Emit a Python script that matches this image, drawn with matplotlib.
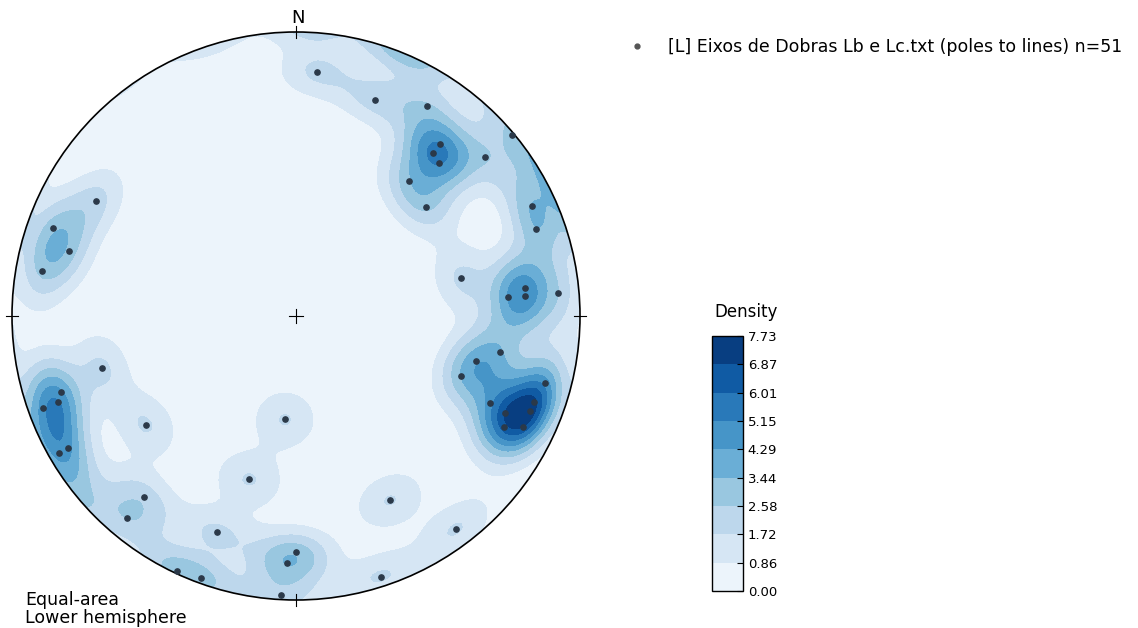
import numpy as np
import matplotlib
matplotlib.use("Agg")
import matplotlib.pyplot as plt
from matplotlib.patches import Circle
from matplotlib.lines import Line2D

# fold axes: trend / plunge in degrees
trends = [5, 20, 32, 50, 40, 40, 43, 50, 40, 50, 65, 70,
          300, 290, 286, 280, 77, 83, 85, 85, 85, 100, 104, 110, 105,
          114, 110, 112, 115, 118, 116, 255, 252, 250, 250, 240, 240,
          234, 186, 196, 220, 220, 153, 143, 200, 180, 182, 205, 200, 162, 183]
plunges = [15, 20, 14, 1, 22, 26, 27, 14, 38, 40, 9, 11,
           20, 10, 18, 10, 40, 20, 20, 26, 8, 28, 35, 38, 10,
           26, 12, 12, 20, 18, 12, 30, 14, 12, 6, 8, 4,
           35, 60, 40, 18, 8, 28, 7, 20, 18, 14, 1, 2, 4, 2]

LEGEND_LABEL = "[L] Eixos de Dobras Lb e Lc.txt (poles to lines) n=%d" % len(trends)
DENSITY_MAX = 7.73
N_LEVELS = 10

# smoothing (fisher kernel) / grid
KAPPA = 80.0
NORM = 1.12
GRID = 181

# figure constants
W, H = 1138, 628
CX, CY, R = 296, 316, 284
POINT_COLOR = "#2b3949"


def project(trend, plunge):
    """lower hemisphere equal-area projection"""
    t = np.radians(trend)
    p = np.radians(plunge)
    r = np.sqrt(2) * np.sin((np.pi / 2 - p) / 2)
    return r * np.sin(t), r * np.cos(t)


def to_vectors(trend, plunge):
    t = np.radians(trend)
    p = np.radians(plunge)
    return np.column_stack([np.cos(p) * np.sin(t), np.cos(p) * np.cos(t), np.sin(p)])


trends = np.array(trends, dtype=float)
plunges = np.array(plunges, dtype=float)
vecs = to_vectors(trends, plunges)

# density grid in the projection plane (nodes outside pushed onto the primitive)
gx, gy = np.meshgrid(np.linspace(-1, 1, GRID), np.linspace(-1, 1, GRID))
rr = np.minimum(np.hypot(gx, gy), 1.0)
theta = 2 * np.arcsin(rr / np.sqrt(2))
az = np.arctan2(gx, gy)
nodes = np.column_stack([(np.sin(theta) * np.sin(az)).ravel(),
                         (np.sin(theta) * np.cos(az)).ravel(),
                         np.cos(theta).ravel()])
cos_dist = np.abs(nodes @ vecs.T)
dens = NORM * (KAPPA / len(vecs)) * np.exp(KAPPA * (cos_dist - 1)).sum(axis=1)
dens = np.clip(dens.reshape(gx.shape), 0, DENSITY_MAX)

levels = np.linspace(0, DENSITY_MAX, N_LEVELS)

fig = plt.figure(figsize=(W / 100, H / 100), dpi=100)
ax = fig.add_axes([(CX - R) / W, (H - CY - R) / H, 2 * R / W, 2 * R / H])
ax.set_xlim(-1, 1)
ax.set_ylim(-1, 1)
ax.axis("off")

cs = ax.contourf(gx, gy, dens, levels=levels, cmap="Blues")
clip = Circle((0, 0), 1.0, transform=ax.transData, facecolor="none", edgecolor="none")
ax.add_patch(clip)
cs.set_clip_path(clip)

ax.add_patch(Circle((0, 0), 1.0, facecolor="none", edgecolor="black", linewidth=1.2,
                    zorder=5, clip_on=False))

# cardinal ticks and centre cross
tk = 0.022
for x0, y0 in [(0, 1), (0, -1)]:
    ax.plot([x0, x0], [y0 - tk, y0 + tk], color="black", lw=0.8, clip_on=False, zorder=6)
for x0, y0 in [(1, 0), (-1, 0)]:
    ax.plot([x0 - tk, x0 + tk], [y0, y0], color="black", lw=0.8, clip_on=False, zorder=6)
cc = 0.025
ax.plot([-cc, cc], [0, 0], color="black", lw=0.8, zorder=6)
ax.plot([0, 0], [-cc, cc], color="black", lw=0.8, zorder=6)
ax.text(0.008, 1.016, "N", ha="center", va="bottom", fontsize=13, clip_on=False)

px, py = project(trends, plunges)
ax.plot(px, py, "o", color=POINT_COLOR, markersize=3.8, zorder=7, clip_on=False)

# legend
handle = Line2D([], [], marker="o", linestyle="none", color="#555555", markersize=3.5)
fig.legend([handle], [LEGEND_LABEL], loc="upper left", bbox_to_anchor=(604 / W, 1 - 22 / H),
           frameon=False, fontsize=12.5, handletextpad=0.8)

# colour bar
cax = fig.add_axes([712 / W, (H - 591) / H, 31 / W, 255 / H])
cbar = fig.colorbar(cs, cax=cax, ticks=levels)
cbar.ax.set_yticklabels(["%.2f" % v for v in levels])
cbar.ax.tick_params(direction="in", length=4, labelsize=9.5, width=0.8)
cbar.outline.set_linewidth(1.0)
fig.text(746 / W, 1 - 312 / H, "Density", ha="center", va="center", fontsize=12)

fig.text(25 / W, 1 / H, "Equal-area\nLower hemisphere", ha="left", va="bottom",
         fontsize=12.5, linespacing=1.0)

fig.savefig("out.png", dpi=100)
